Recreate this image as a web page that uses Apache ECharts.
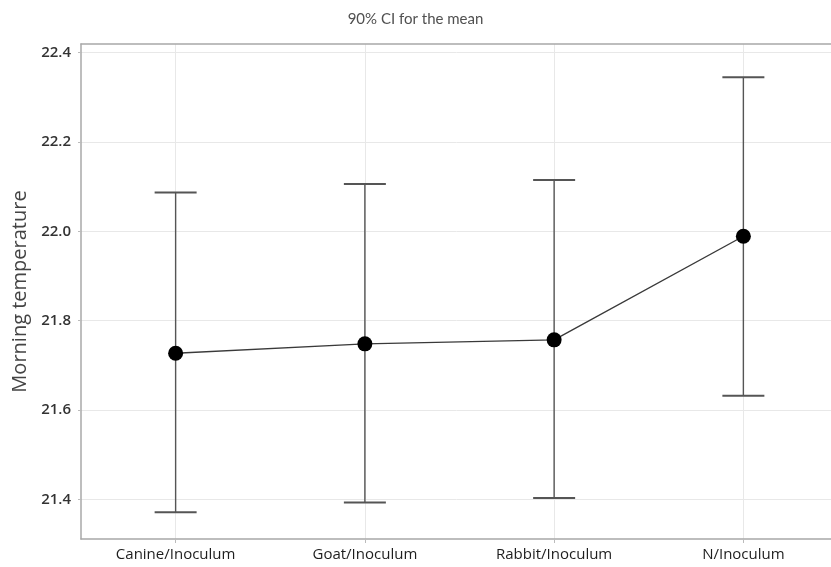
<!DOCTYPE html>
<html>
<head>
<meta charset="utf-8">
<script src="https://cdn.jsdelivr.net/npm/echarts@6/dist/echarts.min.js"></script>
<style>
  html, body { margin: 0; padding: 0; background: #ffffff; }
  #chart { width: 831px; height: 567px; }
</style>
</head>
<body>
<div id="chart"></div>
<script>
// Groups and their 90% confidence intervals for the mean morning temperature
const categories = ['Canine/Inoculum', 'Goat/Inoculum', 'Rabbit/Inoculum', 'N/Inoculum'];
const means = [21.727, 21.748, 21.757, 21.989];
const lowerCI = [21.371, 21.393, 21.403, 21.632];
const upperCI = [22.087, 22.106, 22.115, 22.345];
const yTicks = [21.4, 21.6, 21.8, 22.0, 22.2, 22.4];
const xTicks = [0, 1, 2, 3];

const chart = echarts.init(document.getElementById('chart'));

const labelFont = '"Open Sans", "Noto Sans", sans-serif';
const frameLine = { show: true, onZero: false, lineStyle: { color: '#a8a8a8', width: 1.5 } };

chart.setOption({
  animation: false,
  backgroundColor: '#ffffff',
  title: {
    text: '90% CI for the mean',
    left: 'center',
    top: 7,
    textStyle: { fontFamily: 'Lato, "Open Sans", sans-serif', fontSize: 15, fontWeight: 'normal', color: '#505050' }
  },
  // the plot area runs slightly past the right edge of the page
  grid: {
    left: 81, top: 44, width: 757, height: 495, containLabel: false,
    outerBoundsMode: 'none'
  },
  xAxis: [
    {
      type: 'value',
      min: -0.5,
      max: 3.5,
      axisLine: frameLine,
      axisTick: { show: true, customValues: xTicks, length: 4, lineStyle: { color: '#bbbbbb' } },
      axisLabel: {
        customValues: xTicks,
        formatter: v => categories[Math.round(v)],
        fontFamily: labelFont, fontSize: 15, fontWeight: 'normal', color: '#1e1e1e', margin: 8
      },
      splitLine: { show: true, lineStyle: { color: '#e8e8e8', width: 1 } }
    },
    {
      // top edge of the frame
      type: 'value',
      position: 'top',
      min: -0.5,
      max: 3.5,
      axisLine: frameLine,
      axisTick: { show: false },
      axisLabel: { show: false },
      splitLine: { show: false }
    }
  ],
  yAxis: {
    type: 'value',
    min: 21.311,
    max: 22.4195,
    name: 'Morning temperature',
    nameLocation: 'middle',
    nameGap: 51,
    nameTextStyle: { fontFamily: labelFont, fontSize: 20, color: '#444444' },
    axisLine: frameLine,
    axisTick: { show: true, customValues: yTicks, length: 3, lineStyle: { color: '#bbbbbb' } },
    axisLabel: {
      customValues: yTicks,
      formatter: v => v.toFixed(1),
      fontFamily: labelFont, fontSize: 15, fontWeight: 600, color: '#333333', margin: 10
    },
    splitLine: { show: true, lineStyle: { color: '#e8e8e8', width: 1 } }
  },
  series: [
    {
      // confidence interval whiskers
      type: 'custom',
      data: categories.map((_, i) => [i, lowerCI[i], upperCI[i]]),
      renderItem: function (params, api) {
        const x = api.value(0);
        const lo = api.coord([x, api.value(1)]);
        const hi = api.coord([x, api.value(2)]);
        const half = 21;
        const style = { stroke: '#555555', lineWidth: 1.4, fill: null };
        const capStyle = { stroke: '#555555', lineWidth: 2, fill: null };
        return {
          type: 'group',
          children: [
            { type: 'line', shape: { x1: lo[0], y1: lo[1], x2: hi[0], y2: hi[1] }, style },
            { type: 'line', shape: { x1: hi[0] - half, y1: hi[1], x2: hi[0] + half, y2: hi[1] }, style: capStyle },
            { type: 'line', shape: { x1: lo[0] - half, y1: lo[1], x2: lo[0] + half, y2: lo[1] }, style: capStyle }
          ]
        };
      },
      z: 2
    },
    {
      // group means joined by a line
      type: 'line',
      data: means.map((m, i) => [i, m]),
      symbol: 'circle',
      symbolSize: 15,
      itemStyle: { color: '#000000' },
      lineStyle: { color: '#3a3a3a', width: 1.4 },
      z: 3
    }
  ]
});
</script>
</body>
</html>
